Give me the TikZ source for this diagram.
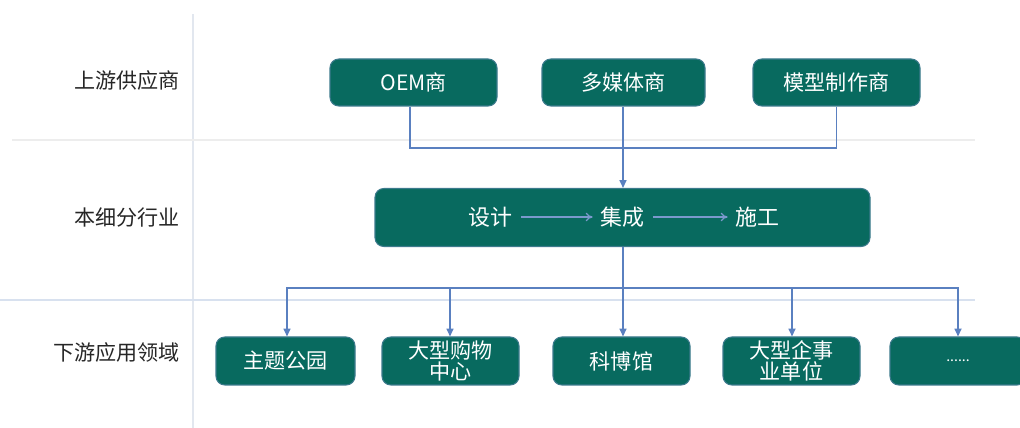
\documentclass[tikz,border=0pt]{standalone}
\usepackage{fontspec}
\setmainfont{Noto Sans CJK SC}
\usetikzlibrary{arrows.meta}
\definecolor{boxfill}{HTML}{086A5F}
\definecolor{boxedge}{HTML}{3C7A8C}
\definecolor{conn}{HTML}{5A80C0}
\definecolor{gridA}{HTML}{EDEDED}
\definecolor{gridB}{HTML}{D8E1EF}
\definecolor{gridV}{HTML}{E2E7EF}
\tikzset{
  box/.style 2 args={draw=boxedge, line width=0.6pt, fill=boxfill, rounded corners=5pt,
    minimum width=#1*0.02cm, minimum height=#2*0.02cm, inner sep=0pt,
    text=white, font=\fontsize{12}{11}\selectfont, align=center},
  rowlabel/.style={anchor=east, text=black!85, font=\fontsize{12}{14}\selectfont},
  inner/.style={text=white, font=\fontsize{12.5}{14}\selectfont, inner sep=1pt},
  conn/.style={draw=conn, line width=0.85pt},
  arr/.style={conn, -{Triangle[length=4.5pt,width=4pt]}},
  flow/.style={draw=conn!80!white, line width=0.7pt, -{To[length=4pt,width=5pt]}},
}
\begin{document}
\begin{tikzpicture}[x=0.02cm,y=-0.02cm]
\useasboundingbox (0,0) rectangle (1020,428);
% grid lines
\draw[gridV, line width=0.9pt] (193,14) -- (193,428);
\draw[gridA, line width=0.7pt] (12,140) -- (975,140);
\draw[gridB, line width=0.7pt] (0,300) -- (975,300);
% row labels
\node[rowlabel] (r1) at (186,80) {上游供应商};
\node[rowlabel] (r2) at (186,217) {本细分行业};
\node[rowlabel] (r3) at (186,352) {下游应用领域};
% upstream boxes
\node[box={167}{47}] (oem) at (413.5,82.5) {OEM商};
\node[box={163}{47}] (mm) at (623.5,82.5) {多媒体商};
\node[box={167}{47}] (mx) at (836.5,82.5) {模型制作商};
% middle box
\node[box={495}{58}] (mid) at (622.5,217.5) {};
\node[inner] (t1) at (490,217) {设计};
\node[inner] (t2) at (622,217) {集成};
\node[inner] (t3) at (757,217) {施工};
\draw[flow] ([xshift=4pt]t1.east) -- ([xshift=-3pt]t2.west);
\draw[flow] ([xshift=4pt]t2.east) -- ([xshift=-3pt]t3.west);
% downstream boxes
\node[box={139}{48}] (b1) at (285.5,361) {主题公园};
\node[box={137}{48}] (b2) at (450.5,361) {大型购物\\中心};
\node[box={137}{48}] (b3) at (621.5,361) {科博馆};
\node[box={137}{48}] (b4) at (791.5,361) {大型企事\\业单位};
\node[box={136}{48}] (b5) at (958,361) {\fontsize{8}{10}\selectfont ......};
% upstream connectors
\coordinate (jt) at (623,148);
\draw[conn] (oem.south -| 410,0) |- (jt);
\draw[conn] (mx.south) |- (jt);
\draw[arr] (mm.south -| 623,0) -- (mid.north -| 623,0);
% downstream connectors
\coordinate (jb) at (623,288);
\draw[conn] (mid.south -| 623,0) -- (jb);
\draw[arr] (jb) -| (b1.north -| 287,0);
\draw[arr] (jb) -| (b2.north -| 450,0);
\draw[arr] (jb) -- (b3.north -| 623,0);
\draw[arr] (jb) -| (b4.north -| 792,0);
\draw[arr] (jb) -| (b5.north -| 958,0);
\end{tikzpicture}
\end{document}
